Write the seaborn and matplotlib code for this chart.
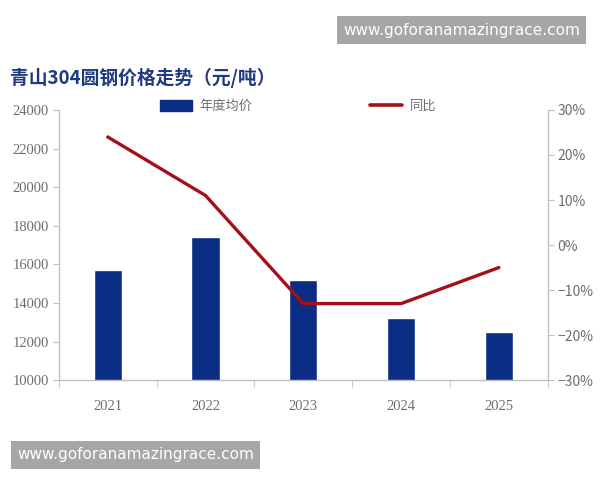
import numpy as np
import pandas as pd
import matplotlib
matplotlib.use("Agg")
import matplotlib.pyplot as plt
from matplotlib.lines import Line2D
from matplotlib.patches import Patch
import seaborn as sns

# Dados
anos = ["2021", "2022", "2023", "2024", "2025"]
preco_medio = [15700, 17400, 15200, 13200, 12500]   # 年度均价 (元/吨)
yoy = [24, 11, -13, -13, -5]                        # 同比 (%)

titulo = "青山304圆钢价格走势（元/吨）"
marca = "www.goforanamazingrace.com"

sns.set_style("white")
plt.rcParams["font.family"] = ["Noto Sans CJK SC", "DejaVu Sans"]

azul = "#0B2D84"
vermelho = "#A50F1A"
cinza = "#BFBFBF"
texto = "#6E6E6E"

df = pd.DataFrame({"ano": anos, "preco": preco_medio, "yoy": yoy})

fig = plt.figure(figsize=(6, 4.8), dpi=100)
ax = fig.add_axes([0.098, 0.208, 0.815, 0.563])

sns.barplot(data=df, x="ano", y="preco", color=azul, width=0.29,
            saturation=1, ax=ax)
ax.set_ylim(10000, 24000)
ax.set_yticks(range(10000, 24001, 2000))
ax.set_xlim(-0.5, len(anos) - 0.5)
ax.set_xlabel("")
ax.set_ylabel("")

ax2 = ax.twinx()
sns.lineplot(x=np.arange(len(anos)), y=df["yoy"], color=vermelho,
             linewidth=2.4, ax=ax2)
ax2.set_ylim(-30, 30)
ax2.set_yticks(range(-30, 31, 10))
ax2.set_yticklabels([f"{v}%".replace("-", "\u2212") for v in range(-30, 31, 10)])
ax2.set_ylabel("")
ax2.set_xlim(-0.5, len(anos) - 0.5)

# Eixos
for a in (ax, ax2):
    a.spines["top"].set_visible(False)
    for s in ("left", "right", "bottom"):
        a.spines[s].set_color(cinza)
        a.spines[s].set_linewidth(1)
ax.spines["right"].set_visible(False)
ax2.spines["left"].set_visible(False)
ax2.spines["bottom"].set_visible(False)

ax.tick_params(axis="y", which="major", length=4, color=cinza, labelcolor=texto,
               labelsize=10.5, pad=3, left=True)
for lbl in ax.get_yticklabels():
    lbl.set_family("Liberation Serif")
ax2.tick_params(axis="y", length=4, color=cinza, labelcolor=texto,
                labelsize=10, pad=3, right=True)

ax.set_xticks(np.arange(len(anos)))
ax.set_xticklabels(anos)
ax.set_xticks(np.arange(-0.5, len(anos)), minor=True)
ax.tick_params(axis="x", which="major", length=0, labelcolor=texto,
               labelsize=10.5, pad=14)
ax.tick_params(axis="x", which="minor", length=5, color=cinza, bottom=True)
for lbl in ax.get_xticklabels():
    lbl.set_family("Liberation Serif")

# Titulo
fig.text(0.017, 0.838, titulo, fontsize=13.5, fontweight="bold", color="#1F3A80",
         ha="left", va="center")

# Legenda
handles = [Patch(facecolor=azul, edgecolor=azul),
           Line2D([0], [0], color=vermelho, linewidth=2.6)]
leg = fig.legend(handles, ["年度均价", "同比"], loc="center left",
                 bbox_to_anchor=(0.267, 0.779), ncol=2, frameon=False,
                 fontsize=9.5, handlelength=2.4, handleheight=0.9,
                 columnspacing=8.9, handletextpad=0.6, borderpad=0,
                 borderaxespad=0)
for t in leg.get_texts():
    t.set_color(texto)

# Marcas d'agua
caixa = dict(boxstyle="square,pad=0.42", facecolor="#A6A6A6", edgecolor="none")
fig.text(0.5717, 0.9375, marca, fontsize=11, color="white", ha="left", va="center",
         family="DejaVu Sans", bbox=caixa)
fig.text(0.0283, 0.0521, marca, fontsize=11, color="white", ha="left", va="center",
         family="DejaVu Sans", bbox=caixa)

plt.savefig("out.png", dpi=100)
plt.close()
